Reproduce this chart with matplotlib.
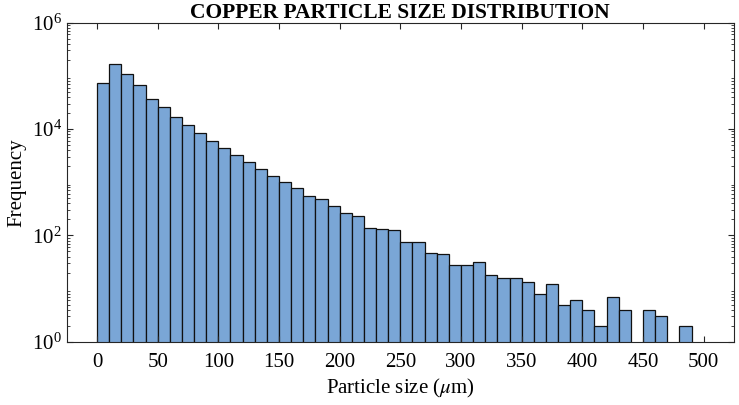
import numpy as np
import matplotlib
matplotlib.use("Agg")
import matplotlib.pyplot as plt

# bin left edges (um) and counts
bin_edges = np.arange(0, 510, 10)
counts = [74800, 166000, 108000, 68600, 37300, 26000, 16800, 12100, 8400, 5940,
          4440, 3190, 2420, 1790, 1300, 1000, 782, 544, 492, 352,
          264, 232, 137, 130, 124, 76, 74, 46, 44, 28,
          28, 32, 18, 16, 16, 13, 8, 12, 5, 6,
          4, 2, 7, 4, 0, 4, 3, 0, 2, 0]
x_ticks = [0, 50, 100, 150, 200, 250, 300, 350, 400, 450, 500]

plt.rcParams['font.family'] = ['Liberation Serif', 'DejaVu Serif']
plt.rcParams['mathtext.fontset'] = 'stix'

fig = plt.figure(figsize=(7.39, 4.05), dpi=100)
ax = fig.add_axes([66.7 / 739, 1 - 341.7 / 405, (734 - 66.7) / 739, (341.7 - 22.7) / 405])

ax.bar(bin_edges[:-1], counts, width=10, align='edge',
       color='#7AA6D6', edgecolor='#111111', linewidth=0.9)

ax.set_yscale('log')
ax.set_ylim(1, 1e6)
ax.set_xlim(-25, 525)
ax.set_xticks(x_ticks)
ax.set_yticks([1, 1e2, 1e4, 1e6])

axc = '#262626'
for s in ax.spines.values():
    s.set_color(axc)
    s.set_linewidth(0.8)
ax.tick_params(which='both', direction='in', top=True, right=True, colors=axc,
               labelcolor='black', labelsize=15)
ax.tick_params(which='major', length=4)
ax.tick_params(which='minor', length=2.5)
ax.tick_params(axis='x', pad=8)

ax.set_xlabel(r'Particle size ($\mu$m)', fontsize=15)
ax.set_ylabel('Frequency', fontsize=15)
ax.set_title('COPPER PARTICLE SIZE DISTRIBUTION', fontsize=15.5, fontweight='bold', pad=3)

fig.savefig('out.png', dpi=100)
